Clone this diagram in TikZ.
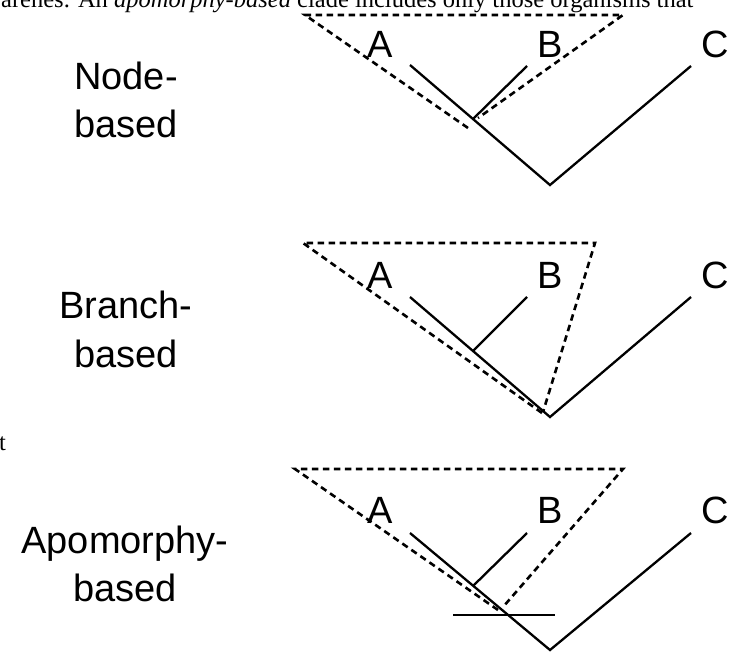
\documentclass[tikz,border=0pt]{standalone}
\usepackage{fontspec}
\setmainfont{Liberation Serif}
\newfontfamily\labfont{Liberation Sans}
\begin{document}
\begin{tikzpicture}[x=1pt,y=-1pt,
  branch/.style={line width=2.3pt, black},
  clade/.style={line width=2.6pt, black, dash pattern=on 6.5pt off 4.5pt},
  taxon/.style={font=\labfont\fontsize{38}{46}\selectfont, inner sep=0pt, anchor=base},
  kind/.style={font=\labfont\fontsize{38}{46}\selectfont, inner sep=0pt, anchor=base},
  bodytext/.style={font=\fontsize{24.5}{29}\selectfont, inner sep=0pt, anchor=base west}]
\useasboundingbox (0,0) rectangle (736,652);
\clip (0,0) rectangle (736,652);
\fill[white] (0,0) rectangle (736,652);

% stray page text
\node[bodytext] (toptext) at (1,8) {arenes. An \textit{apomorphy-based} clade includes only those organisms that};
\node[bodytext] (stray) at (-1,450) {t};

% ---------- Node-based ----------
\node[kind] (k1a) at (126,90) {Node-};
\node[kind] (k1b) at (126,138) {based};
\node[taxon] (a1) at (380,58) {A};
\node[taxon] (b1) at (550,58) {B};
\node[taxon, anchor=base west] (c1) at (701,58) {C};
\coordinate (ta1) at (410,65);
\coordinate (tb1) at (527,66);
\coordinate (tc1) at (691,66);
\coordinate (j1) at (473,119);
\coordinate (r1) at (550,185);
\draw[branch] (ta1) -- (r1) -- (tc1);
\draw[branch] (tb1) -- (j1);
\coordinate (d1l) at (305,15);
\coordinate (d1r) at (623,15);
\coordinate (d1bl) at (468,128);
\coordinate (d1br) at (478,118);
\draw[clade] (d1bl) -- (d1l) -- (d1r) -- (d1br);

% ---------- Branch-based ----------
\node[kind] (k2a) at (126,319) {Branch-};
\node[kind] (k2b) at (126,367) {based};
\node[taxon] (a2) at (380,288) {A};
\node[taxon] (b2) at (550,288) {B};
\node[taxon, anchor=base west] (c2) at (701,288) {C};
\coordinate (ta2) at (410,297);
\coordinate (tb2) at (527,297);
\coordinate (tc2) at (691,297);
\coordinate (j2) at (473,351);
\coordinate (r2) at (550,417);
\draw[branch] (ta2) -- (r2) -- (tc2);
\draw[branch] (tb2) -- (j2);
\coordinate (d2l) at (303,243);
\coordinate (d2r) at (595,243);
\coordinate (d2bl) at (542,413);
\coordinate (d2br) at (543,412);
\draw[clade] (d2bl) -- (d2l) -- (d2r) -- (d2br);

% ---------- Apomorphy-based ----------
\node[kind] (k3a) at (125,553) {Apomorphy-};
\node[kind] (k3b) at (125,601) {based};
\node[taxon] (a3) at (380,523) {A};
\node[taxon] (b3) at (550,523) {B};
\node[taxon, anchor=base west] (c3) at (701,523) {C};
\coordinate (ta3) at (410,533);
\coordinate (tb3) at (527,533);
\coordinate (tc3) at (691,533);
\coordinate (j3) at (473,586);
\coordinate (r3) at (550,650);
\draw[branch] (ta3) -- (r3) -- (tc3);
\draw[branch] (tb3) -- (j3);
\coordinate (d3l) at (295,469);
\coordinate (d3r) at (623,469);
\coordinate (d3bl) at (498,610);
\coordinate (d3br) at (503,607);
\draw[clade] (d3bl) -- (d3l) -- (d3r) -- (d3br);
\coordinate (apoL) at (453,615);
\coordinate (apoR) at (555,615);
\draw[branch] (apoL) -- (apoR);
\end{tikzpicture}
\end{document}
